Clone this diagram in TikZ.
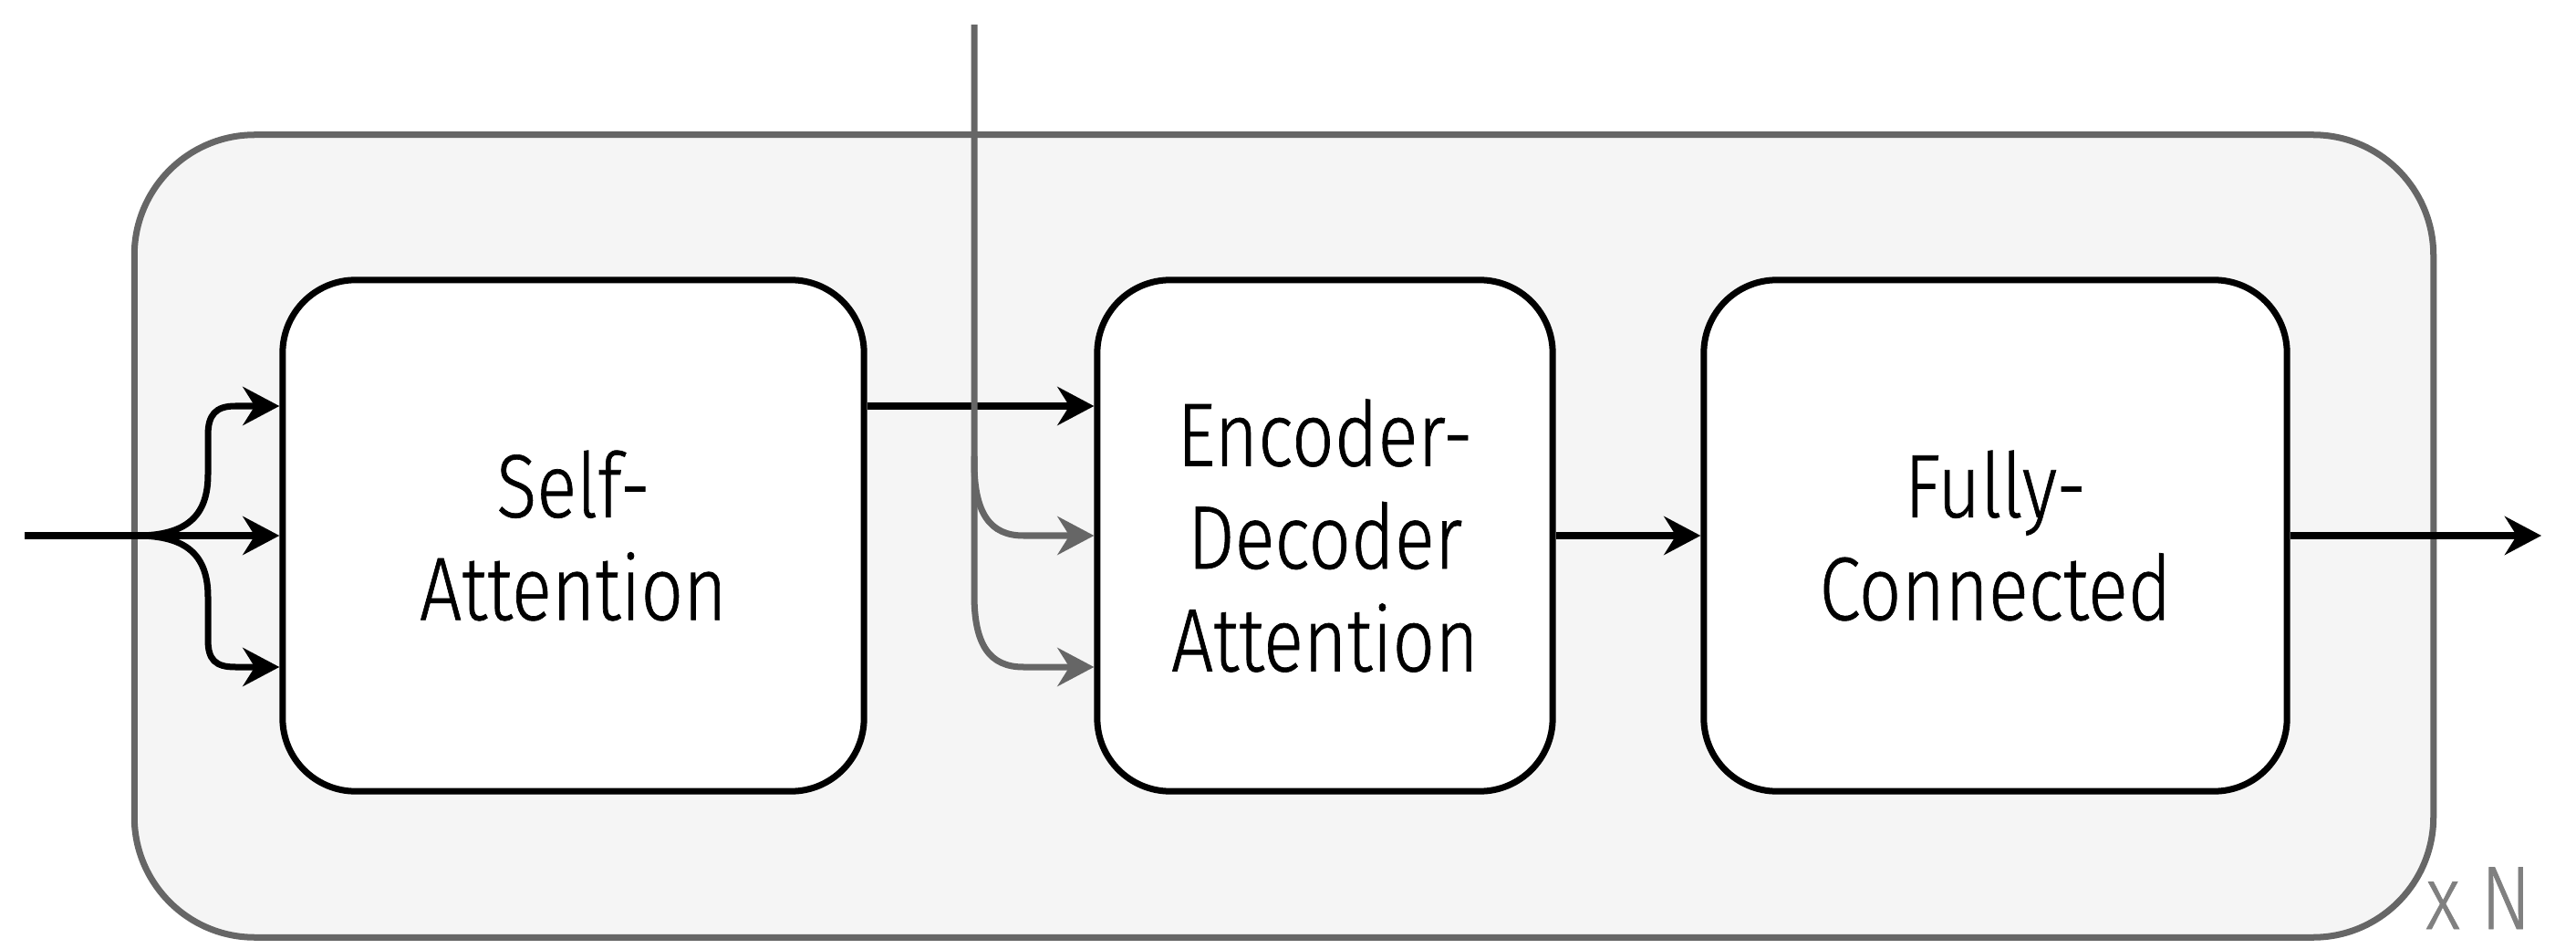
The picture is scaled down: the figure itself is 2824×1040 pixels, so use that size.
\documentclass[tikz,border=0pt]{standalone}
\usepackage{fontspec}
\setmainfont{Fira Sans Light}[FakeStretch=0.83,FakeBold=0.7]
\usetikzlibrary{arrows.meta,calc}
\definecolor{outerfill}{HTML}{F5F5F5}
\definecolor{outerline}{HTML}{666666}
\definecolor{xncol}{HTML}{808080}
\tikzset{
  tipk/.style={-{Stealth[length=0.40cm,width=0.42cm,inset=0.13cm]}},
  conn/.style={line width=0.07cm,black},
  gconn/.style={line width=0.07cm,outerline},
  outerbox/.style={draw=outerline,fill=outerfill,line width=0.07cm,rounded corners=1.32cm},
  block/.style={draw=black,fill=white,line width=0.07cm,rounded corners=0.8cm,
    minimum height=5.6cm,align=center,inner sep=0pt,
    font=\fontsize{28}{32}\selectfont},
}
\begin{document}
\begin{tikzpicture}[x=0.01cm,y=-0.01cm]
\useasboundingbox (0,0) rectangle (2824,1040);
\node[outerbox,minimum width=25.19cm,minimum height=8.79cm] (outer) at (1407.5,587.5) {};
\node[block,minimum width=6.37cm] (sa) at (628.5,587) {Self-\\Attention};
\node[block,minimum width=4.99cm] (eda) at (1452.5,587) {Encoder-\\Decoder\\Attention};
\node[block,minimum width=6.39cm] (fc) at (2187.5,587) {Fully-\\Connected};
\node[text=xncol,anchor=base,font=\fontsize{28}{32}\selectfont] (xn) at (2717,1018) {x N};
% coordinates
\coordinate (in) at (27,587);
\coordinate (fork) at (150,587);
\coordinate (out) at (2786,587);
\coordinate (enc) at (1068,27);
\path (sa.west) ++(0,-142) coordinate (sa1);
\path (sa.west) ++(0,144) coordinate (sa3);
\path (sa.east) ++(0,-142) coordinate (sa1o);
\path (eda.west) ++(0,-142) coordinate (eda1);
\path (eda.west) ++(0,144) coordinate (eda3);
% input fork
\draw[conn,tipk] (in) -- (sa.west);
\draw[conn,tipk] (fork) .. controls (205,587) and (228,565) .. (228,520) -- (228,477)
  .. controls (228,455) and (236,445) .. (258,445) -- (sa1);
\draw[conn,tipk] (fork) .. controls (205,587) and (228,609) .. (228,654) -- (228,701)
  .. controls (228,723) and (236,731) .. (258,731) -- (sa3);
% SA -> EDA
\draw[conn,tipk] (sa1o) -- (eda1);
% encoder input
\draw[gconn,tipk] (enc) -- (1068,507) .. controls (1068,562) and (1085,587) .. (1122,587) -- (eda.west);
\draw[gconn,tipk] (1068,500) -- (1068,652) .. controls (1068,707) and (1085,731) .. (1122,731) -- (eda3);
% EDA -> FC -> out
\draw[conn,tipk] (eda.east) -- (fc.west);
\draw[conn,tipk] (fc.east) -- (out);
\end{tikzpicture}
\end{document}
